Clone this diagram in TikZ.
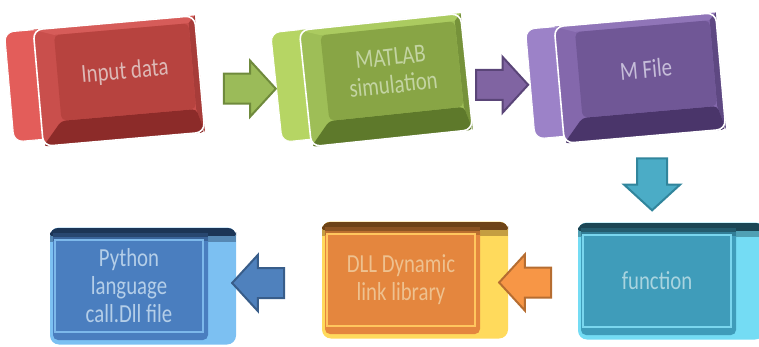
\documentclass[tikz,border=0pt]{standalone}
\usepackage{fontspec}
\newfontfamily\keyfont{Carlito}[FakeStretch=0.8]
\usetikzlibrary{calc,shapes.arrows}

% mau phim hang tren
\definecolor{redSlab}{HTML}{E35D5A}
\definecolor{redFace}{HTML}{C94F4C}
\definecolor{redTop}{HTML}{D65C59}
\definecolor{redIn}{HTML}{B7433F}
\definecolor{redSide}{HTML}{A73C39}
\definecolor{redDark}{HTML}{8C2B29}
\definecolor{redText}{HTML}{DDB9B6}
\definecolor{greenSlab}{HTML}{B6D564}
\definecolor{greenFace}{HTML}{9EBE57}
\definecolor{greenTop}{HTML}{ABCB60}
\definecolor{greenIn}{HTML}{88A545}
\definecolor{greenSide}{HTML}{76923A}
\definecolor{greenDark}{HTML}{5E792B}
\definecolor{greenText}{HTML}{C3D4A2}
\definecolor{purpleSlab}{HTML}{9C82C8}
\definecolor{purpleFace}{HTML}{8468AC}
\definecolor{purpleTop}{HTML}{9075B8}
\definecolor{purpleIn}{HTML}{705796}
\definecolor{purpleSide}{HTML}{5E4882}
\definecolor{purpleDark}{HTML}{4A356A}
\definecolor{purpleText}{HTML}{C6BDD9}
% mau phim hang duoi
\definecolor{cyanSlab}{HTML}{74DCF4}
\definecolor{cyanFace}{HTML}{3F9CBA}
\definecolor{cyanDark}{HTML}{1B4655}
\definecolor{cyanLine}{HTML}{7AD6EE}
\definecolor{cyanText}{HTML}{A9D4DF}
\definecolor{orangeSlab}{HTML}{FFDA5C}
\definecolor{orangeFace}{HTML}{E4863E}
\definecolor{orangeDark}{HTML}{6E4417}
\definecolor{orangeLine}{HTML}{FFC65E}
\definecolor{orangeText}{HTML}{EEC18F}
\definecolor{blueSlab}{HTML}{7CC0F2}
\definecolor{blueFace}{HTML}{4A7EBF}
\definecolor{blueDark}{HTML}{1C3556}
\definecolor{blueLine}{HTML}{7DB8EA}
\definecolor{blueText}{HTML}{B4CEE8}
% mau mui ten
\definecolor{arrGreen}{HTML}{9BBB59}
\definecolor{arrGreenD}{HTML}{6F8A3C}
\definecolor{arrPurple}{HTML}{8064A2}
\definecolor{arrPurpleD}{HTML}{5A4578}
\definecolor{arrTeal}{HTML}{4BACC6}
\definecolor{arrTealD}{HTML}{31859C}
\definecolor{arrOrange}{HTML}{F79646}
\definecolor{arrOrangeD}{HTML}{B66D31}
\definecolor{arrBlue}{HTML}{4F81BD}
\definecolor{arrBlueD}{HTML}{385D8A}

\tikzset{
  keyslab/.style={rectangle, rounded corners=9pt, draw=white, line width=1pt,
    minimum width=162pt, minimum height=110pt, inner sep=0pt},
  keyface/.style={rectangle, rounded corners=9pt, minimum width=162pt,
    minimum height=117pt, inner sep=0pt},
  keyrim/.style={keyface, draw=white, line width=1.6pt},
  keyin/.style={rectangle, rounded corners=5pt, minimum width=135pt,
    minimum height=86pt, inner sep=0pt, keytext},
  keybody/.style={rectangle, rounded corners=9pt, minimum width=186pt,
    minimum height=117pt, inner sep=0pt},
  keyplate/.style={rectangle, line width=1.2pt, minimum width=148pt,
    minimum height=92pt, inner sep=0pt, keytext},
  keytext/.style={font=\keyfont\fontsize{26}{28}\selectfont, align=center},
  blockarr/.style={single arrow, single arrow head extend=13pt,
    single arrow tip angle=95, inner xsep=0pt, inner ysep=14pt,
    minimum height=52pt, line width=2pt},
}

% phim hang tren: ten, x, y, goc, mau, chu
\newcommand{\topkey}[6]{%
  \node[keyslab, fill=#5Slab, rotate=#4] (#1 slab) at (#2-29,#3-1) {};
  \node[keyface, fill=#5Face, rotate=#4] (#1 face) at (#2,#3) {};
  \node[keyin, fill=#5In, text=#5Text, rotate=#4] (#1) at (#2+6,#3-9) {#6};
  \fill[#5Top] (#1 face.north west) -- (#1 face.north east)
    -- (#1.north east) -- (#1.north west) -- cycle;
  \fill[#5Side] (#1 face.north east) -- (#1 face.south east)
    -- (#1.south east) -- (#1.north east) -- cycle;
  \fill[#5Dark, rounded corners=4pt] (#1 face.south west) -- (#1 face.south east)
    -- (#1.south east) -- (#1.south west) -- cycle;
  \node[keyrim, rotate=#4] (#1 rim) at (#2,#3) {};
}
% phim hang duoi: ten, x, y, mau, chu
\newcommand{\botkey}[5]{%
  \node[keybody, fill=#4Slab] (#1 body) at (#2+14,#3) {};
  \fill[#4Dark, rounded corners=8pt] (#2-79,#3-58) rectangle (#2+107,#3-46);
  \fill[#4Dark!40!#4Slab] (#2-79,#3-50) rectangle (#2+107,#3-44);
  \fill[#4Face, rounded corners=5pt] (#2-76,#3-53) rectangle (#2+79,#3+54);
  \fill[#4Dark!75!#4Face] (#2-76,#3-53) rectangle (#2+79,#3-49);
  \fill[#4Dark!35!#4Face] (#2-76,#3-49) rectangle (#2+79,#3-45);
  \node[keyplate, draw=#4Line, text=#4Text] (#1) at (#2,#3) {#5};
}

\begin{document}
\begin{tikzpicture}[x=1pt,y=-1pt]
  \useasboundingbox (0,0) rectangle (759,347);
  %Hang tren
  \topkey{input}{119}{81}{5}{red}{Input data}
  \topkey{matlab}{386}{80}{6}{green}{MATLAB\\simulation}
  \topkey{mfile}{640}{78}{5}{purple}{M File}
  %Hang duoi
  \botkey{function}{657}{281}{cyan}{function}
  \botkey{dll}{401}{280}{orange}{DLL Dynamic\\link library}
  \botkey{python}{129}{286}{blue}{Python\\language\\call.Dll file}
  %Mui ten
  \node[blockarr, fill=arrGreen, draw=arrGreenD] (ar1)
    at ($(input face.east)!0.5!(matlab slab.west)+(5,8)$) {};
  \node[blockarr, fill=arrPurple, draw=arrPurpleD] (ar2)
    at ($(matlab face.east)!0.5!(mfile slab.west)+(-3,7)$) {};
  \node[blockarr, fill=arrTeal, draw=arrTealD, shape border rotate=270,
    inner xsep=14pt, inner ysep=0pt] (ar3)
    at ($(mfile face.south)!0.5!(function.north)+(1,-8)$) {};
  \node[blockarr, fill=arrOrange, draw=arrOrangeD, shape border rotate=180] (ar4)
    at ($(function.west)!0.5!(dll.east)+(3,2)$) {};
  \node[blockarr, fill=arrBlue, draw=arrBlueD, shape border rotate=180] (ar5)
    at ($(dll.west)!0.5!(python.east)$) {};
\end{tikzpicture}
\end{document}
